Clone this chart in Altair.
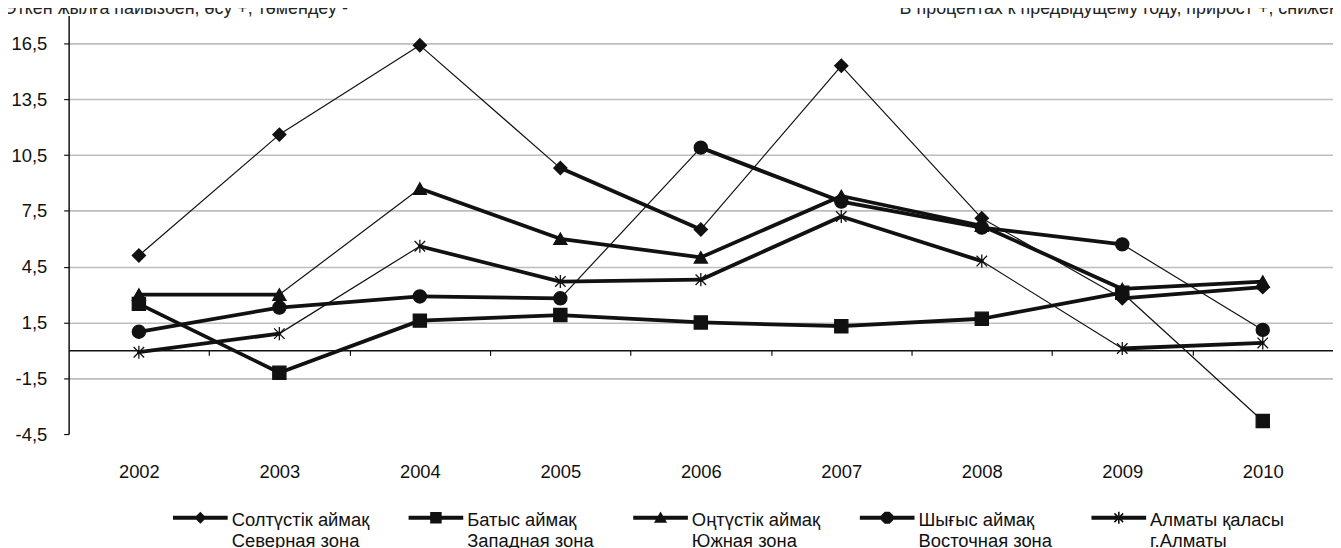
import altair as alt
import pandas as pd

years = [2002, 2003, 2004, 2005, 2006, 2007, 2008, 2009, 2010]
series_names = [
    "Солтүстік аймақ|Северная зона",
    "Батыс аймақ|Западная зона",
    "Оңтүстік аймақ|Южная зона",
    "Шығыс аймақ|Восточная зона",
    "Алматы қаласы|г.Алматы",
]
north = [5.1, 11.6, 16.4, 9.8, 6.5, 15.3, 7.1, 2.8, 3.4]
west = [2.5, -1.2, 1.6, 1.9, 1.5, 1.3, 1.7, 3.1, -3.8]
south = [3.0, 3.0, 8.7, 6.0, 5.0, 8.3, 6.7, 3.3, 3.7]
east = [1.0, 2.3, 2.9, 2.8, 10.9, 8.0, 6.6, 5.7, 1.1]
almaty = [-0.1, 0.9, 5.6, 3.7, 3.8, 7.2, 4.8, 0.1, 0.4]
y_ticks = [-4.5, -1.5, 1.5, 4.5, 7.5, 10.5, 13.5, 16.5]
boundaries = [2002.5, 2003.5, 2004.5, 2005.5, 2006.5, 2007.5, 2008.5, 2009.5]
header_left = "Өткен жылға пайызбен, өсу +, төмендеу -"
header_right = "В процентах к предыдущему году, прирост +, снижение -"

all_values = [north, west, south, east, almaty]

rows = []
seg_rows = []
for name, vals in zip(series_names, all_values):
    for i, (yr, v) in enumerate(zip(years, vals)):
        rows.append({"series": name, "year": yr, "value": v})
        if i + 1 < len(years):
            seg_rows.append({"series": name, "year": yr, "value": v,
                             "next_year": years[i + 1], "next_value": vals[i + 1]})
df = pd.DataFrame(rows)
seg = pd.DataFrame(seg_rows)

FONT = "Liberation Sans"
INK = "#111111"
FS = 18.5

marker_shapes = [
    "diamond",
    "square",
    "triangle-up",
    "circle",
    "M-0.8,-0.8L0.8,0.8M-0.8,0.8L0.8,-0.8M0,-1V1",
]
# legend symbols (fill only): a thick line with the marker, a little above the symbol centre
LINE = "M-1,-0.37H1V-0.23H-1Z"
legend_paths = [
    LINE + "M0,-0.52L0.22,-0.3L0,-0.08L-0.22,-0.3Z",
    LINE + "M-0.21,-0.51H0.21V-0.09H-0.21Z",
    LINE + "M0,-0.53L0.24,-0.12H-0.24Z",
    LINE + "M-0.09,-0.52H0.09L0.22,-0.39V-0.21L0.09,-0.08H-0.09L-0.22,-0.21V-0.39Z",
    LINE + "M-0.03,-0.52H0.03V-0.08H-0.03Z"
         + "M-0.18,-0.44L-0.14,-0.48L0.18,-0.16L0.14,-0.12Z"
         + "M0.14,-0.48L0.18,-0.44L-0.14,-0.12L-0.18,-0.16Z",
]

x_scale = alt.Scale(domain=[2001.5, 2010.5], nice=False, zero=False)
y_scale = alt.Scale(domain=[-4.5, 18], nice=False, zero=False)

segments = alt.Chart(seg).mark_rule(color=INK, strokeCap="round").encode(
    x=alt.X("year:Q", scale=x_scale,
            axis=alt.Axis(orient="bottom", values=years, format="d", tickSize=0,
                          domain=False, grid=False, labelPadding=29, labelFontSize=FS,
                          labelFont=FONT, labelColor=INK, title=None)),
    x2="next_year:Q",
    y=alt.Y("value:Q", scale=y_scale,
            axis=alt.Axis(orient="left", values=y_ticks,
                          labelExpr="replace('' + datum.value, '.', ',')",
                          domainColor=INK, domainWidth=1.5, tickColor=INK, tickSize=5,
                          tickWidth=1.2, grid=True, gridColor="#bdbdbd", gridWidth=1.6,
                          gridOpacity={"condition": {"test": "datum.value === -4.5", "value": 0}, "value": 1},
                          labelPadding=17, labelFontSize=FS, labelFont=FONT,
                          labelColor=INK, title=None)),
    y2="next_value:Q",
    strokeWidth=alt.condition("abs(datum.next_value - datum.value) >= 4",
                              alt.value(1.2), alt.value(3.8)),
)

points = alt.Chart(df).mark_point(filled=True, size=175, color=INK, stroke=INK,
                                  strokeWidth=1.3, opacity=1).encode(
    x=alt.X("year:Q", scale=x_scale,
            axis=alt.Axis(orient="bottom", offset=-84.2, values=boundaries, labels=False,
                          ticks=True, tickSize=5, tickColor=INK, tickWidth=1.2,
                          domain=True, domainColor=INK, domainWidth=1.5, grid=False,
                          title=None)),
    y=alt.Y("value:Q", scale=y_scale, axis=None),
    shape=alt.Shape("series:N", scale=alt.Scale(domain=series_names, range=marker_shapes),
                    legend=None),
)

legend_layer = alt.Chart(df).mark_point(filled=True, opacity=0, color=INK).encode(
    x=alt.X("year:Q", scale=x_scale, axis=None),
    y=alt.Y("value:Q", scale=y_scale, axis=None),
    shape=alt.Shape("series:N", scale=alt.Scale(domain=series_names, range=legend_paths),
                    legend=alt.Legend(title=None, orient="none", legendX=104, legendY=484.7,
                                      direction="horizontal", columns=5, columnPadding=36,
                                      symbolSize=3025, symbolFillColor=INK,
                                      symbolOpacity=1,
                                      labelExpr="split(datum.label, '|')",
                                      labelFont=FONT, labelFontSize=FS, labelColor=INK,
                                      labelBaseline="alphabetic", labelOffset=3,
                                      labelLimit=400, padding=0)),
)

text_left = alt.Chart(pd.DataFrame({"t": [header_left]})).mark_text(
    align="right", baseline="alphabetic", font=FONT, fontSize=18, color="#222222"
).encode(text="t:N", x=alt.value(281), y=alt.value(-1.5))

text_right = alt.Chart(pd.DataFrame({"t": [header_right]})).mark_text(
    align="left", baseline="alphabetic", font=FONT, fontSize=18, color="#222222"
).encode(text="t:N", x=alt.value(836), y=alt.value(-1.5))

chart = alt.layer(segments, points, legend_layer, text_left, text_right).resolve_scale(
    shape="independent"
).resolve_axis(x="independent", y="independent").properties(
    width=1272, height=421,
    autosize=alt.AutoSizeParams(type="none"),
    padding={"left": 61, "top": 6, "right": 0, "bottom": 113},
).configure(
    style={"guide-label": {"lineHeight": 21.5}}
).configure_view(stroke=None)

chart.save("out.html", embed_options={"renderer": "svg", "actions": False})
